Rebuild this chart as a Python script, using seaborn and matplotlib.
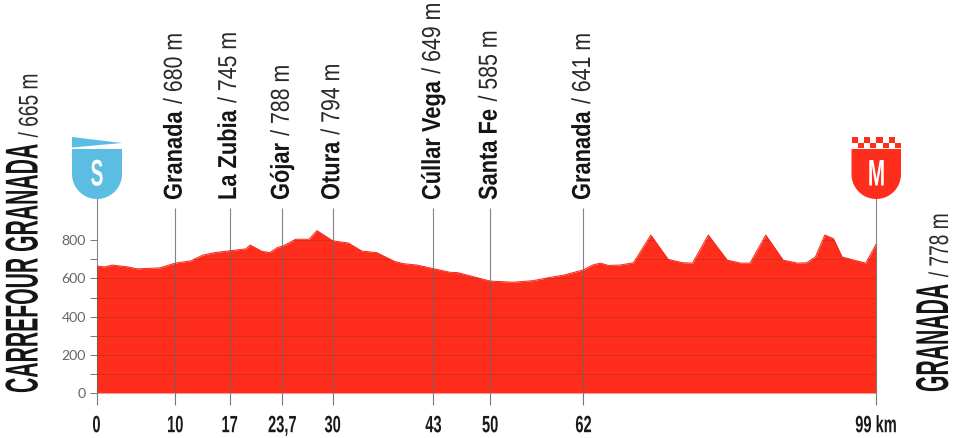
import numpy as np
import pandas as pd
import seaborn as sns
import matplotlib
matplotlib.use("Agg")
import matplotlib.pyplot as plt
from matplotlib.patches import Polygon, Rectangle
from matplotlib.patheffects import AbstractPathEffect
from matplotlib.transforms import Affine2D

# ---- data -------------------------------------------------------------
km = [0, 1, 2, 4, 5.2, 8, 10, 12, 13.5, 15, 17, 19, 19.5, 21, 22, 23, 23.7, 25.3, 27, 28, 30,
      32, 33.7, 35.6, 37.9, 39, 40.7, 42.8, 44.9, 45.9, 50, 52.9, 55.4, 57.6, 59.3, 61.8,
      63, 64, 65, 66.5, 68.2, 70.4, 72.6, 74.4, 75.7, 77.7, 80.1, 81.8, 83, 85, 87.2, 89,
      90.2, 91.3, 92.5, 93.6, 94.7, 97.7, 99]
elevation = [665, 660, 670, 660, 650, 655, 680, 692, 722, 735, 745, 755, 775, 742, 735, 762,
             770, 805, 805, 850, 797, 785, 743, 735, 688, 677, 670, 651, 632, 630, 586, 580,
             588, 605, 617, 644, 670, 680, 668, 670, 682, 827, 700, 682, 680, 827, 696, 680,
             680, 827, 696, 680, 682, 712, 827, 808, 712, 680, 778]
town_km = [10, 16.9, 23.6, 30, 42.8, 50, 61.85]
town_tick_labels = ["10", "17", "23,7", "30", "43", "50", "62"]
town_names = ["Granada", "La Zubia", "Gójar", "Otura", "Cúllar Vega", "Santa Fe", "Granada"]
town_heights = ["/ 680 m", "/ 745 m", "/ 788 m", "/ 794 m", "/ 649 m", "/ 585 m", "/ 641 m"]
start_name, start_height = "CARREFOUR GRANADA", "/ 665 m"
finish_name, finish_height = "GRANADA", "/ 778 m"
y_major = [0, 200, 400, 600, 800]
y_minor = [100, 300, 500, 700]

RED = "#FF2E1C"
BLUE = "#5BBDE2"
W, H = 960, 438
SANS = "Liberation Sans"


class Tall(AbstractPathEffect):
    """Stretch glyphs away from the baseline: gives the source's condensed look."""
    def __init__(self, sy):
        super().__init__()
        self.sy = sy

    def draw_path(self, renderer, gc, tpath, affine, rgbFace=None):
        renderer.draw_path(gc, tpath, Affine2D().scale(1, self.sy) + affine, rgbFace)


sns.set_theme(style="white")
plt.rcParams["font.family"] = [SANS, "DejaVu Sans"]

fig = plt.figure(figsize=(W / 100, H / 100), dpi=100)
ax = fig.add_axes([96.5 / W, (H - 393) / H, 779.5 / W, 195 / H])
ax.set_xlim(0, 99)
ax.set_ylim(0, 195 / 0.191)
ax.patch.set_alpha(0)
sns.despine(ax=ax, left=True, bottom=True, top=True, right=True)

# profile
df = pd.DataFrame({"km": km, "elevation": elevation})
ax.fill_between(df["km"], df["elevation"], 0, color=RED, lw=0, zorder=2)
sns.lineplot(data=df, x="km", y="elevation", ax=ax, color="#EE2A1A", lw=0.7, zorder=3)
ax.set_xlabel("")
ax.set_ylabel("")

# grid only inside the filled profile
clip_poly = Polygon(np.column_stack([[0] + km + [99], [0] + elevation + [0]]),
                    transform=ax.transData)
for v in y_major + y_minor:
    ln = ax.axhline(v, color="#C92A1C", lw=0.7, alpha=0.7, zorder=4)
    ln.set_clip_path(clip_poly)

# town and end markers
top_town, top_end = 185 / 0.191, 195 / 0.191
ax.vlines(town_km, 0, top_town, color="#666666", lw=0.8, alpha=0.8, zorder=5, clip_on=False)
ax.vlines([0, 99], 0, top_end, color="#666666", lw=0.8, alpha=0.8, zorder=5, clip_on=False)

# axes ticks
ax.set_yticks(y_major)
ax.set_yticks(y_minor, minor=True)
ax.set_yticklabels([str(v) for v in y_major], fontfamily="Lato", fontweight="normal",
                   fontsize=10.2, color="#666666")
ax.tick_params(axis="y", which="both", left=True, length=4.7, width=0.7, color="#777777", pad=3)
ax.set_xticks([0] + town_km + [99])
ax.set_xticklabels(["0"] + town_tick_labels + ["99 km"], fontweight="bold", fontsize=17 * 0.62,
                   color="#1a1a1a")
ax.tick_params(axis="x", which="major", bottom=True, length=8.8, width=0.8, color="#777777", pad=11.5)
for t in ax.get_xticklabels():
    t.set_path_effects([Tall(1 / 0.62)])


def vtext(x_px, y_px, s, size_px, weight, sx, color="#151515"):
    t = fig.text(x_px / W, 1 - y_px / H, s, rotation=90, rotation_mode="anchor",
                 ha="left", va="baseline", fontsize=size_px * 0.72 * sx, fontweight=weight,
                 color=color, family=SANS)
    t.set_path_effects([Tall(1 / sx)])
    return t


renderer = fig.canvas.get_renderer()


def two_part(x_px, y_px, bold, light, size_bold, size_light, sx_bold, sx_light, gap):
    t = vtext(x_px, y_px, bold, size_bold, "bold", sx_bold)
    length = t.get_window_extent(renderer).height
    vtext(x_px, y_px - length - gap, light, size_light, "normal", sx_light, color="#2a2a2a")


to_px = lambda k: ax.transData.transform((k, 0))[0]
for k, n, h in zip(town_km, town_names, town_heights):
    two_part(to_px(k) + 6.5, 200, n, h, 26, 26, 0.84, 0.82, 7)

two_part(37.5, 393, start_name, start_height, 46, 27, 0.46, 0.71, 7)
two_part(948, 392, finish_name, finish_height, 46, 27, 0.46, 0.71, 7)

# badges, in pixel coordinates
px = Affine2D().scale(1, -1).translate(0, H)


def shield(x0, x1, y0, y1, color):
    r = (x1 - x0) / 2
    th = np.linspace(0, np.pi, 40)
    cx, cy = (x0 + x1) / 2, y1 - r
    pts = [(x0, y0), (x1, y0)] + list(zip(cx + r * np.cos(th), cy + r * np.sin(th)))
    fig.add_artist(Polygon(pts, closed=True, color=color, lw=0, transform=px))


shield(72, 122, 149, 199, BLUE)
fig.add_artist(Polygon([(72, 137), (122, 143), (72, 147.5)], closed=True, color=BLUE, lw=0, transform=px))
shield(851.5, 901, 149, 199, RED)
for i in range(8):
    x = 851.5 + i * 6.2
    y = 137 if i % 2 == 0 else 142.5
    fig.add_artist(Rectangle((x, y), 6.2, 5.5, color=RED, lw=0, transform=px))

for xc, s, sx in [(97, "S", 0.52), (876.5, "M", 0.56)]:
    t = fig.text(xc / W, 1 - 185.5 / H, s, ha="center", va="baseline", color="white",
                 fontsize=37 * 0.72 * sx, fontweight="bold", family=SANS)
    t.set_path_effects([Tall(1 / sx)])

fig.savefig("out.png", dpi=100, facecolor="white")
